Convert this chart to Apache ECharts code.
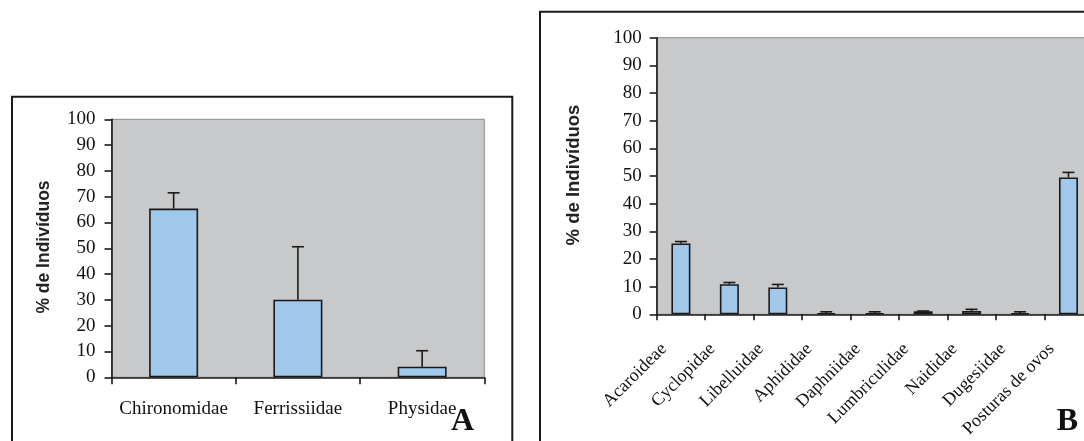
<!DOCTYPE html>
<html><head><meta charset="utf-8">
<script src="https://cdn.jsdelivr.net/npm/echarts@6.0.0/dist/echarts.min.js"></script>
<style>html,body{margin:0;padding:0;background:#fff}#c{width:1084px;height:441px}</style>
</head><body><div id="c"></div>
<script>
// Panel A data
const catsA = ['Chironomidae', 'Ferrissiidae', 'Physidae'];
const valsA = [65.4, 30.1, 4.1];
const errTopA = [71.5, 50.6, 10.3];
// Panel B data
const catsB = ['Acaroideae', 'Cyclopidae', 'Libelluidae', 'Aphididae', 'Daphniidae', 'Lumbriculidae', 'Naididae', 'Dugesiidae', 'Posturas de ovos'];
const valsB = [25.6, 10.9, 9.7, 0.4, 0.4, 1.1, 1.2, 0.4, 49.5];
const errTopB = [26.3, 11.5, 10.8, 0.9, 0.9, 1.2, 1.8, 0.9, 51.3];
// Axis ticks
const yTicks = [0, 10, 20, 30, 40, 50, 60, 70, 80, 90, 100];
const yName = '% de Indivíduos';
const panelLabels = ['A', 'B'];

const SERIF = '"Liberation Serif", "Times New Roman", serif';
const SANS = '"Liberation Sans", Arial, sans-serif';
const BAR = '#9FC8EB';
const BG = '#C8C9CB';
const INK = '#1a1a1a';

function errItem(params, api) {
  const i = api.value(0);
  const lo = api.coord([i, api.value(1)]);
  const hi = api.coord([i, api.value(2)]);
  const cap = 6;
  return {
    type: 'group',
    children: [
      { type: 'line', shape: { x1: lo[0], y1: lo[1], x2: hi[0], y2: hi[1] }, style: { stroke: INK, lineWidth: 1.6 } },
      { type: 'line', shape: { x1: hi[0] - cap, y1: hi[1], x2: hi[0] + cap, y2: hi[1] }, style: { stroke: INK, lineWidth: 1.6 } }
    ]
  };
}

function yAxisCfg(gridIndex, fs, margin) {
  return {
    type: 'value', gridIndex: gridIndex,
    min: yTicks[0], max: yTicks[yTicks.length - 1], interval: yTicks[1] - yTicks[0],
    splitLine: { show: false },
    axisLine: { show: true, lineStyle: { color: INK, width: 1.6 } },
    axisTick: { show: true, length: 7, lineStyle: { color: INK, width: 1.6 } },
    axisLabel: { color: '#111', fontFamily: SERIF, fontSize: fs, margin: margin }
  };
}

const chart = echarts.init(document.getElementById('c'), null, { renderer: 'canvas' });
chart.setOption({
  animation: false,
  backgroundColor: '#fff',
  grid: [
    { left: 111.5, top: 119.3, width: 372.8, height: 258, outerBoundsMode: 'none', containLabel: false, show: true, backgroundColor: BG, borderColor: '#8a8a8a', borderWidth: 1 },
    { left: 656.7, top: 37.7, width: 436, height: 276.6, outerBoundsMode: 'none', containLabel: false, show: true, backgroundColor: BG, borderColor: '#8a8a8a', borderWidth: 1 }
  ],
  xAxis: [
    {
      type: 'category', gridIndex: 0, data: catsA,
      axisLine: { show: true, lineStyle: { color: INK, width: 1.6 } },
      axisTick: { show: true, length: 7, lineStyle: { color: INK, width: 1.6 } },
      axisLabel: { interval: 0, color: '#111', fontFamily: SERIF, fontSize: 19, margin: 22 }
    },
    {
      type: 'category', gridIndex: 1, data: catsB,
      axisLine: { show: true, lineStyle: { color: INK, width: 1.6 } },
      axisTick: { show: true, length: 6, lineStyle: { color: INK, width: 1.6 } },
      axisLabel: { interval: 0, rotate: 45, color: '#111', fontFamily: SERIF, fontSize: 18, margin: 15, padding: [0, 24, 0, 0] }
    }
  ],
  yAxis: [yAxisCfg(0, 19, 16), yAxisCfg(1, 19, 15)],
  series: [
    {
      type: 'bar', xAxisIndex: 0, yAxisIndex: 0, data: valsA, barWidth: 49,
      itemStyle: { color: BAR, borderColor: INK, borderWidth: 1.6 }
    },
    {
      type: 'custom', xAxisIndex: 0, yAxisIndex: 0, renderItem: errItem,
      encode: { x: 0, y: [1, 2] },
      data: catsA.map((c, i) => [i, valsA[i], errTopA[i]]), z: 3
    },
    {
      type: 'bar', xAxisIndex: 1, yAxisIndex: 1, data: valsB, barWidth: 19,
      itemStyle: { color: BAR, borderColor: INK, borderWidth: 1.6 }
    },
    {
      type: 'custom', xAxisIndex: 1, yAxisIndex: 1, renderItem: errItem,
      encode: { x: 0, y: [1, 2] },
      data: catsB.map((c, i) => [i, valsB[i], errTopB[i]]), z: 3
    }
  ],
  graphic: [
    { type: 'rect', z: 0, shape: { x: 12, y: 96.7, width: 500.3, height: 400 }, style: { fill: null, stroke: INK, lineWidth: 2 } },
    { type: 'rect', z: 0, shape: { x: 540, y: 11.7, width: 600, height: 500 }, style: { fill: null, stroke: INK, lineWidth: 2 } },
    { type: 'text', x: 44, y: 247, rotation: Math.PI / 2, style: { text: yName, fontFamily: SANS, fontWeight: 'bold', fontSize: 17.5, fill: '#222', align: 'center', verticalAlign: 'middle' } },
    { type: 'text', x: 574, y: 175, rotation: Math.PI / 2, style: { text: yName, fontFamily: SANS, fontWeight: 'bold', fontSize: 18.5, fill: '#222', align: 'center', verticalAlign: 'middle' } },
    { type: 'text', x: 462.5, y: 422, style: { text: panelLabels[0], fontFamily: SERIF, fontWeight: 'bold', fontSize: 32, fill: '#111', align: 'center', verticalAlign: 'middle' } },
    { type: 'text', x: 1067.5, y: 422, style: { text: panelLabels[1], fontFamily: SERIF, fontWeight: 'bold', fontSize: 32, fill: '#111', align: 'center', verticalAlign: 'middle' } }
  ]
});
</script>
</body></html>
